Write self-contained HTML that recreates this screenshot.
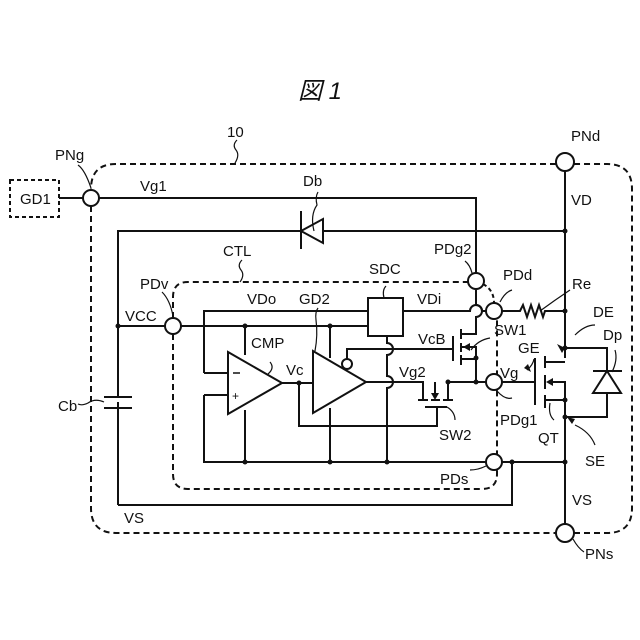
<!DOCTYPE html>
<html><head><meta charset="utf-8"><style>
body{margin:0;background:#fff}
svg{display:block}
text{font-family:"Liberation Sans","Noto Sans CJK JP",sans-serif;font-size:15px;fill:#111}
</style></head><body>
<svg width="640" height="640" viewBox="0 0 640 640" xmlns="http://www.w3.org/2000/svg">
<g fill="none" stroke="#111" stroke-width="2">
<!-- outer dashed box -->
<path d="M91 206 V508 Q91 533 116 533 H556" stroke-dasharray="6,4"/>
<path d="M574 533 H607 Q632 533 632 508 V189 Q632 164 607 164 H574 M556 164 H116 Q91 164 91 189" stroke-dasharray="6,4"/>
<!-- GD1 -->
<rect x="10" y="180" width="49" height="37" stroke-dasharray="4,3"/>
<!-- CTL dashed -->
<path d="M173 334 V474 Q173 489 188 489 H482 Q497 489 497 474 V319" stroke-dasharray="6,4"/>
<path d="M173 318 V297 Q173 282 188 282 H468" stroke-dasharray="6,4"/>
<path d="M483 284 Q494 290 494 303" stroke-dasharray="4,3"/>
<!-- wires -->
<path d="M59 198 H83 M99 198 H476 V273 M476 290 V305 A6 6 0 0 1 476 317 V334 H461"/>
<path d="M118 505 V402 M118 397 V231 H301 M323 231 H565"/>
<path d="M118 326 H165 M181 326 H368"/>
<path d="M204 373 V311 H368 M204 373 H228 M204 395 H228 M204 395 V462 H486 M502 462 H565"/>
<path d="M403 311 H470 A6 6 0 0 1 482 311 H486 M502 311 H520 L523 305 L527 317 L531 305 L535 317 L539 305 L543 317 L545 311 H565"/>
<path d="M565 171 V358 M565 400 V524 M118 505 H512 V462"/>
<path d="M245 326 V355 M245 410 V462 M330 326 V358 M330 408 V462"/>
<path d="M282 383 H313 M299 383 V426 H437 V407"/>
<path d="M387 336 V343 A6 6 0 0 1 387 355 V376 A6 6 0 0 1 387 388 V462"/>
<path d="M347 359 V349 H453"/>
<path d="M366 382 H423 V400 M448 400 V382 H486 M476 358 V382"/>
<path d="M502 382 H535"/>
<!-- comparator / GD2 -->
<path d="M228 352 V414 L282 383 Z"/>
<path d="M313 351 V413 L366 382 Z"/>
<circle cx="347" cy="364" r="5"/>
<rect x="368" y="298" width="35" height="38"/>
<!-- SW1 -->
<path d="M453 336 V361 M461 329 V339 M461 343 V352 M461 355 V365 M461 334 H476 M461 359 H476 M461 347 H476 V359"/>
<!-- SW2 -->
<path d="M418 400 H428 M431 400 H440 M443 400 H453 M425 407 H447 M435 382 V394"/>
<!-- QT -->
<path d="M535 358 V405 M545 356 V368 M545 375 V389 M545 395 V408 M545 362 H565 M545 400 H565 M552 382 H565 V400"/>
<!-- Dp -->
<path d="M565 348 H607 V371 M607 393 V417 H565 M593 371 H622"/>
<path d="M593 393 H621 L607 371 Z"/>
<!-- Db diode -->
<path d="M301 211 V249 M323 219 V243 L301 231 Z"/>
<!-- Cb -->
<path d="M104 397 H132 M104 408 H132"/>
<!-- terminals -->
<circle cx="91" cy="198" r="8" fill="#fff"/>
<circle cx="173" cy="326" r="8" fill="#fff"/>
<circle cx="476" cy="281" r="8" fill="#fff"/>
<circle cx="494" cy="311" r="8" fill="#fff"/>
<circle cx="494" cy="382" r="8" fill="#fff"/>
<circle cx="494" cy="462" r="8" fill="#fff"/>
<circle cx="565" cy="162" r="9" fill="#fff"/>
<circle cx="565" cy="533" r="9" fill="#fff"/>
<!-- leader lines -->
<path d="M235 163 Q240 155 236 150 Q232 145 237 140" stroke-width="1.2"/>
<path d="M91 188 Q85 170 78 165" stroke-width="1.2"/>
<path d="M240 282 Q245 275 241 270 Q237 265 242 260" stroke-width="1.2"/>
<path d="M173 316 Q170 300 162 292" stroke-width="1.2"/>
<path d="M314 231 Q310 215 317 205 Q315 197 318 192" stroke-width="1.2"/>
<path d="M384 298 Q382 290 386 286" stroke-width="1.2"/>
<path d="M472 273 Q470 265 465 261" stroke-width="1.2"/>
<path d="M500 302 Q505 292 512 290" stroke-width="1.2"/>
<path d="M540 311 Q555 300 570 290" stroke-width="1.2"/>
<path d="M268 374 Q275 368 270 362" stroke-width="1.2"/>
<path d="M315 351 Q318 335 316 320 Q315 312 318 308" stroke-width="1.2"/>
<path d="M471 350 Q478 340 490 338" stroke-width="1.2"/>
<path d="M447 407 Q455 412 455 420" stroke-width="1.2"/>
<path d="M497 391 Q505 400 512 398" stroke-width="1.2"/>
<path d="M550 403 Q548 415 554 420" stroke-width="1.2"/>
<path d="M486 466 Q478 470 470 470" stroke-width="1.2"/>
<path d="M573 539 Q578 548 584 552" stroke-width="1.2"/>
<path d="M612 372 Q618 360 615 350" stroke-width="1.2"/>
<path d="M104 402 Q95 398 88 403 Q82 406 78 404" stroke-width="1.2"/>
<path d="M595 325 Q585 325 575 335" stroke-width="1.2"/>
<path d="M595 445 Q590 432 575 425" stroke-width="1.2"/>
<path d="M534 359 Q533 365 527 370" stroke-width="1.2"/>
</g>
<g fill="#111">
<circle cx="118" cy="326" r="2.5"/><circle cx="245" cy="326" r="2.5"/><circle cx="330" cy="326" r="2.5"/>
<circle cx="565" cy="231" r="2.5"/><circle cx="565" cy="311" r="2.5"/><circle cx="565" cy="348" r="2.5"/>
<circle cx="565" cy="400" r="2.5"/><circle cx="565" cy="417" r="2.5"/><circle cx="565" cy="462" r="2.5"/>
<circle cx="512" cy="462" r="2.5"/><circle cx="245" cy="462" r="2.5"/><circle cx="330" cy="462" r="2.5"/><circle cx="387" cy="462" r="2.5"/>
<circle cx="299" cy="383" r="2.5"/><circle cx="448" cy="382" r="2.5"/><circle cx="476" cy="382" r="2.5"/><circle cx="476" cy="358" r="2.5"/>
<path d="M463 347 L470 343 L470 351 Z"/>
<path d="M435 400 L431 393 L439 393 Z"/>
<path d="M546 382 L553 378 L553 386 Z"/>
<path d="M565 348 L557 344 L562 353 Z"/>
<path d="M567 417 L572 424 L575 419 Z"/>
<path d="M531 372 L528 364 L524 368 Z"/>
</g>
<text x="298" y="99" style="font-size:24px;font-style:italic">図 1</text>
<text x="227" y="137">10</text>
<text x="55" y="160">PNg</text>
<text x="20" y="204">GD1</text>
<text x="140" y="191">Vg1</text>
<text x="303" y="186">Db</text>
<text x="223" y="256">CTL</text>
<text x="140" y="289">PDv</text>
<text x="125" y="321">VCC</text>
<text x="247" y="304">VDo</text>
<text x="299" y="304">GD2</text>
<text x="369" y="274">SDC</text>
<text x="417" y="304">VDi</text>
<text x="434" y="254">PDg2</text>
<text x="503" y="280">PDd</text>
<text x="572" y="289">Re</text>
<text x="593" y="317">DE</text>
<text x="603" y="340">Dp</text>
<text x="571" y="205">VD</text>
<text x="571" y="141">PNd</text>
<text x="251" y="348">CMP</text>
<text x="286" y="375">Vc</text>
<text x="418" y="344">VcB</text>
<text x="494" y="335">SW1</text>
<text x="518" y="353">GE</text>
<text x="500" y="378">Vg</text>
<text x="399" y="377">Vg2</text>
<text x="439" y="440">SW2</text>
<text x="500" y="425">PDg1</text>
<text x="538" y="443">QT</text>
<text x="585" y="466">SE</text>
<text x="440" y="484">PDs</text>
<text x="572" y="505">VS</text>
<text x="124" y="523">VS</text>
<text x="58" y="411">Cb</text>
<text x="585" y="559">PNs</text>
<path d="M233 373 h7" stroke="#111" stroke-width="1.5"/>
<text x="232" y="400" style="font-size:12px">+</text>
</svg>
</body></html>
